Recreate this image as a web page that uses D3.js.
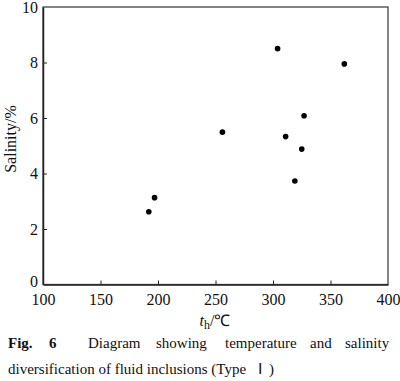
<!DOCTYPE html>
<html>
<head>
<meta charset="utf-8">
<script src="https://cdn.jsdelivr.net/npm/d3@7"></script>
<style>
  body { margin: 0; background: #fff; }
  svg text { font-family: "Liberation Serif", "Times New Roman", serif; fill: #111; }
</style>
</head>
<body>
<div id="chart"></div>
<script>
// temperature (th, °C) and salinity (%) of each inclusion
var temps = [192, 197, 256, 304, 311, 319, 325, 327, 362];
var salinity = [2.62, 3.13, 5.49, 8.5, 5.33, 3.73, 4.88, 6.08, 7.95];
var xTicks = [100, 150, 200, 250, 300, 350, 400];
var yTicks = [0, 2, 4, 6, 8, 10];

var svg = d3.select("#chart")
    .append("svg")
    .attr("width", 400)
    .attr("height", 381);

var x = d3.scaleLinear().domain([100, 400]).range([43, 388]);
var y = d3.scaleLinear().domain([0, 10]).range([284.5, 7]);

// box
svg.append("rect")
    .attr("x", x(100))
    .attr("y", y(10))
    .attr("width", x(400) - x(100))
    .attr("height", y(0) - y(10))
    .attr("fill", "none")
    .attr("stroke", "#444")
    .attr("stroke-width", 1.3);

var xAxis = svg.append("g")
    .attr("transform", "translate(0," + y(0) + ")")
    .call(d3.axisBottom(x).tickValues(xTicks).tickSizeInner(-4).tickSizeOuter(0).tickPadding(9));

var yAxis = svg.append("g")
    .attr("transform", "translate(" + x(100) + ",0)")
    .call(d3.axisLeft(y).tickValues(yTicks).tickSizeInner(-4).tickSizeOuter(0).tickPadding(5));

[xAxis, yAxis].forEach(function(g) {
    g.select(".domain").attr("stroke", "#222").attr("stroke-width", 1.5);
    g.selectAll(".tick line").attr("stroke", "#222");
    g.selectAll(".tick text")
        .style("font-family", "Liberation Serif, serif")
        .style("font-size", "16px")
        .attr("fill", "#111");
});
// end ticks sit on the box
xAxis.selectAll(".tick line").filter(function(d) { return d === 100 || d === 400; }).remove();
yAxis.selectAll(".tick line").filter(function(d) { return d === 0 || d === 10; }).remove();
// corner label "0" sits a little higher so it clears "100"
yAxis.selectAll(".tick text").filter(function(d) { return d === 0; }).attr("dy", "0.1em");

// points
svg.selectAll("circle.pt")
    .data(temps)
    .enter().append("circle")
    .attr("class", "pt")
    .attr("cx", function(d) { return x(d); })
    .attr("cy", function(d, i) { return y(salinity[i]); })
    .attr("r", 2.8)
    .attr("fill", "#000");

// axis titles
svg.append("text")
    .attr("transform", "translate(15.5,139) rotate(-90)")
    .attr("text-anchor", "middle")
    .style("font-size", "16px")
    .text("Salinity/%");

var xt = svg.append("text")
    .attr("x", 215)
    .attr("y", 326)
    .attr("text-anchor", "middle")
    .style("font-size", "16px");
xt.append("tspan").style("font-style", "italic").text("t");
xt.append("tspan").attr("dy", 3).style("font-size", "12px").text("h");
xt.append("tspan").attr("dy", -3).text("/\u2103");

// caption, first line justified word by word
var words = ["Fig.", "6", "Diagram", "showing", "temperature", "and", "salinity"];
var wordX = [8, 49, 88, 156, 225, 310, 345];
svg.selectAll("text.cap")
    .data(words)
    .enter().append("text")
    .attr("class", "cap")
    .attr("x", function(d, i) { return wordX[i]; })
    .attr("y", 348)
    .style("font-size", "15px")
    .style("font-weight", function(d, i) { return i < 2 ? "bold" : "normal"; })
    .text(function(d) { return d; });

var cap2 = svg.append("text")
    .attr("y", 374)
    .style("font-size", "15px");
cap2.append("tspan").attr("x", 8).text("diversification of fluid inclusions (Type");
cap2.append("tspan").attr("x", 258).text("\u2160");
cap2.append("tspan").attr("x", 269).text(")");
</script>
</body>
</html>
